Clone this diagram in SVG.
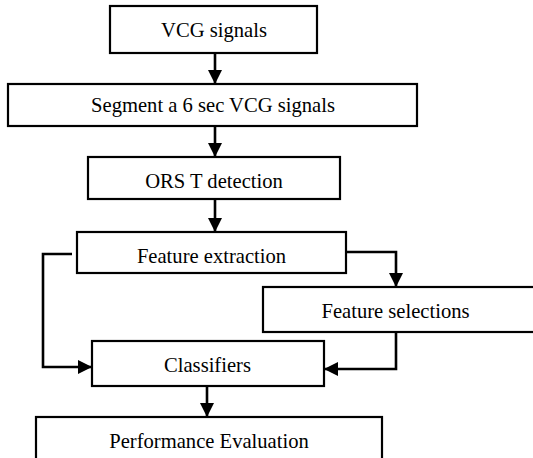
<svg xmlns="http://www.w3.org/2000/svg" width="533" height="458" viewBox="0 0 533 458">
<defs>
<marker id="ah" markerUnits="userSpaceOnUse" markerWidth="14" markerHeight="14" refX="14" refY="7" orient="auto">
<path d="M0,0 L14,7 L0,14 z" fill="#000"/>
</marker>
<style>
.box{fill:#fff;stroke:#000;stroke-width:2.2}
.lbl{font-family:'Liberation Serif','DejaVu Serif',serif;font-size:20.6px;fill:#000;text-anchor:middle}
.con{fill:none;stroke:#000;stroke-width:2.6;marker-end:url(#ah)}
</style>
</defs>
<rect width="533" height="458" fill="#fff"/>
<g id="connectors">
<path class="con" d="M215,53 L215,84"/>
<path class="con" d="M215,126 L215,157"/>
<path class="con" d="M215,199 L215,232"/>
<path class="con" d="M72,254 L43,254 L43,367 L92,367"/>
<path class="con" d="M347,252 L396,252 L396,287"/>
<path class="con" d="M396,332 L396,369 L324,369"/>
<path class="con" d="M207,386 L207,417"/>
</g>
<g id="n1"><rect class="box" x="110" y="6" width="207" height="47"/><text class="lbl" x="214" y="37">VCG signals</text></g>
<g id="n2"><rect class="box" x="8" y="84" width="409" height="42"/><text class="lbl" x="213" y="112">Segment a 6 sec VCG signals</text></g>
<g id="n3"><rect class="box" x="88" y="157" width="252" height="42"/><text class="lbl" x="214" y="188">ORS T detection</text></g>
<g id="n4"><rect class="box" x="77" y="232" width="269" height="41"/><text class="lbl" x="211.5" y="263">Feature extraction</text></g>
<g id="n5"><rect class="box" x="263" y="287" width="280" height="45"/><text class="lbl" x="395.5" y="318">Feature selections</text></g>
<g id="n6"><rect class="box" x="92" y="341" width="232" height="45"/><text class="lbl" x="207.5" y="372">Classifiers</text></g>
<g id="n7"><rect class="box" x="36" y="417" width="346" height="50"/><text class="lbl" x="209" y="448">Performance Evaluation</text></g>
</svg>
